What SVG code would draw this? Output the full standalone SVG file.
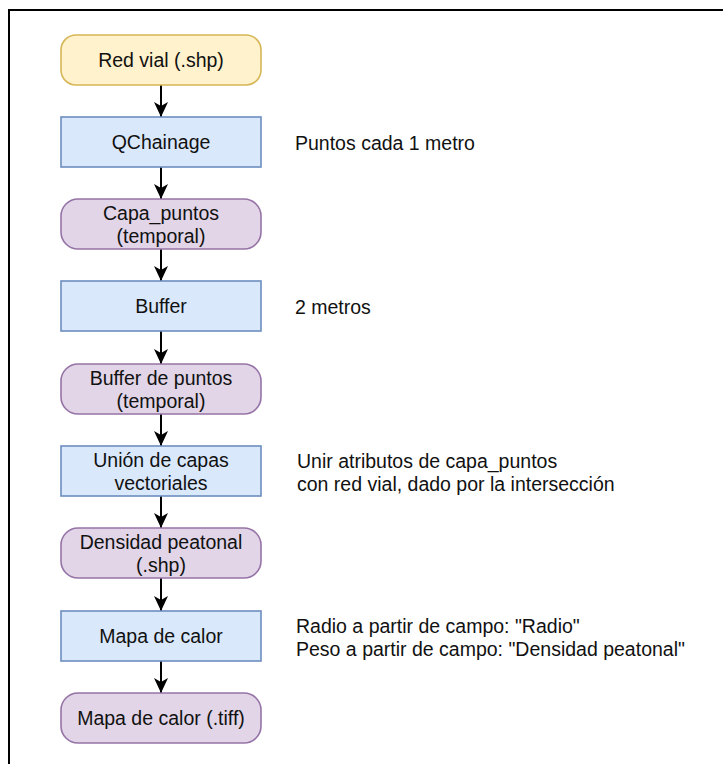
<svg xmlns="http://www.w3.org/2000/svg" width="723" height="764" viewBox="0 0 723 764">
<style>
text{font-family:"Liberation Sans",Arial,sans-serif;font-size:19.5px;fill:#111}
.c{text-anchor:middle}
.y{fill:#fff2cc;stroke:#d6b656;stroke-width:1.6}
.b{fill:#dae8fc;stroke:#6c8ebf;stroke-width:1.6}
.p{fill:#e1d5e7;stroke:#9673a6;stroke-width:1.6}
.e{stroke:#000;stroke-width:2;fill:none;marker-end:url(#ah)}
</style>
<defs>
<marker id="ah" markerUnits="userSpaceOnUse" markerWidth="16" markerHeight="16" refX="15" refY="7" orient="auto" viewBox="0 0 16 14">
<path d="M0,0 L15,7 L0,14 L4,7 Z" fill="#000"/>
</marker>
</defs>
<rect width="723" height="764" fill="#fff"/>
<rect x="9" y="10" width="730" height="770" fill="none" stroke="#000" stroke-width="2"/>
<g id="connectors">
<line class="e" x1="161" y1="85" x2="161" y2="117"/>
<line class="e" x1="161" y1="167" x2="161" y2="199"/>
<line class="e" x1="161" y1="249" x2="161" y2="281"/>
<line class="e" x1="161" y1="331" x2="161" y2="364"/>
<line class="e" x1="161" y1="414" x2="161" y2="446"/>
<line class="e" x1="161" y1="496" x2="161" y2="528"/>
<line class="e" x1="161" y1="578" x2="161" y2="611"/>
<line class="e" x1="161" y1="661" x2="161" y2="693"/>
</g>
<g id="n1"><rect class="y" x="61" y="35" width="200" height="50" rx="15"/><text class="c" x="161" y="67">Red vial (.shp)</text></g>
<g id="n2"><rect class="b" x="61" y="117" width="200" height="50"/><text class="c" x="161" y="149">QChainage</text></g>
<g id="n3"><rect class="p" x="61" y="199" width="200" height="50" rx="17"/><text class="c" x="161" y="219.5">Capa_puntos</text><text class="c" x="161" y="243">(temporal)</text></g>
<g id="n4"><rect class="b" x="61" y="281" width="200" height="50"/><text class="c" x="161" y="313">Buffer</text></g>
<g id="n5"><rect class="p" x="61" y="364" width="200" height="50" rx="17"/><text class="c" x="161" y="384.5">Buffer de puntos</text><text class="c" x="161" y="408">(temporal)</text></g>
<g id="n6"><rect class="b" x="61" y="446" width="200" height="50"/><text class="c" x="161" y="466.5">Unión de capas</text><text class="c" x="161" y="490">vectoriales</text></g>
<g id="n7"><rect class="p" x="61" y="528" width="200" height="50" rx="17"/><text class="c" x="161" y="548.5">Densidad peatonal</text><text class="c" x="161" y="572">(.shp)</text></g>
<g id="n8"><rect class="b" x="61" y="611" width="200" height="50"/><text class="c" x="161" y="643">Mapa de calor</text></g>
<g id="n9"><rect class="p" x="61" y="693" width="200" height="50" rx="17"/><text class="c" x="161" y="725">Mapa de calor (.tiff)</text></g>
<g id="notes">
<text x="295" y="150">Puntos cada 1 metro</text>
<text x="295" y="314">2 metros</text>
<text x="297" y="468">Unir atributos de capa_puntos</text>
<text x="297" y="491">con red vial, dado por la intersección</text>
<text x="296" y="633">Radio a partir de campo: "Radio"</text>
<text x="296" y="656">Peso a partir de campo: "Densidad peatonal"</text>
</g>
</svg>
